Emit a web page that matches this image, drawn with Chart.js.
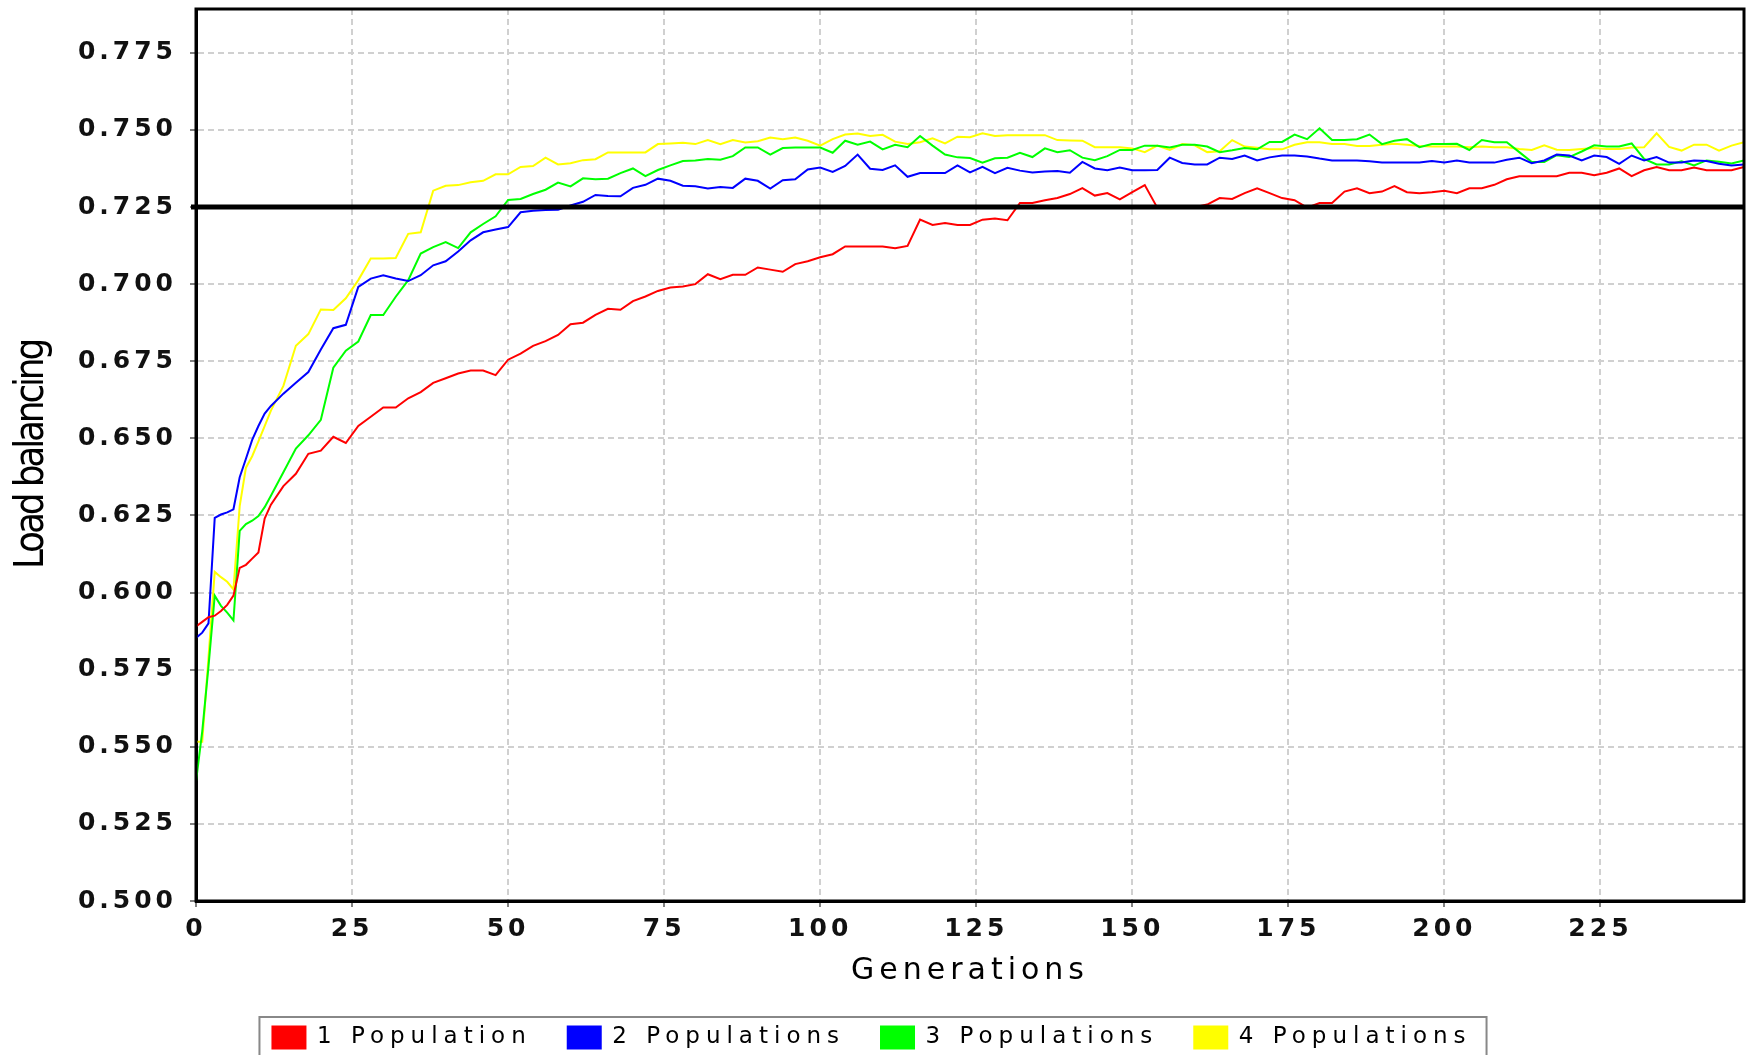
<!DOCTYPE html>
<html>
<head>
<meta charset="utf-8">
<script src="https://cdn.jsdelivr.net/npm/chart.js@4.4.1/dist/chart.umd.min.js"></script>
<style>
  html, body { margin: 0; padding: 0; background: #fff; }
  canvas { display: block; }
</style>
</head>
<body>
<canvas id="chart" width="1748" height="1055"></canvas>
<script>
// Generations sampled from the plot
const generations = [0,1,2,3,4,5,6,7,8,9,10,11,12,14,16,18,20,22,24,26,28,30,32,34,36,38,40,42,44,46,48,50,52,54,56,58,60,62,64,66,68,70,72,74,76,78,80,82,84,86,88,90,92,94,96,98,100,102,104,106,108,110,112,114,116,118,120,122,124,126,128,130,132,134,136,138,140,142,144,146,148,150,152,154,156,158,160,162,164,166,168,170,172,174,176,178,180,182,184,186,188,190,192,194,196,198,200,202,204,206,208,210,212,214,216,218,220,222,224,226,228,230,232,234,236,238,240,242,244,246,248];

const onePopulation = [
  0.589,0.5905,0.592,0.5925,0.594,0.596,0.599,0.608,0.609,0.611,0.613,0.624,0.6285,
  0.6345,0.6385,0.645,0.646,0.6505,0.6485,0.654,0.657,0.660,0.660,0.663,0.665,0.668,0.6695,
  0.671,0.672,0.672,0.6705,0.6755,0.6775,0.680,0.6815,0.6835,0.687,0.6875,0.690,0.692,
  0.6917,0.6945,0.696,0.6978,0.6989,0.6992,0.700,0.7032,0.7016,0.703,0.703,0.7054,0.7047,
  0.704,0.7065,0.7074,0.7087,0.7097,0.7122,0.7122,0.7122,0.7122,0.7116,0.7124,0.7209,0.7192,
  0.7198,0.7192,0.7192,0.7209,0.7213,0.7207,0.7263,0.7263,0.7272,0.7279,0.7292,0.7311,0.7287,
  0.7295,0.7275,0.7298,0.7321,0.7248,0.7247,0.7248,0.7249,0.7258,0.7279,0.7276,0.7295,0.7311,
  0.7295,0.7279,0.7272,0.7248,0.7263,0.7263,0.7300,0.7311,0.7295,0.7300,0.7318,0.7298,0.7295,
  0.7298,0.7303,0.7295,0.7311,0.7311,0.7322,0.7340,0.7350,0.7350,0.7350,0.7350,0.7361,0.7361,
  0.7353,0.7361,0.7375,0.7350,0.7369,0.7380,0.7369,0.7369,0.7378,0.7369,0.7369,0.7369,0.7380
];
const twoPopulations = [
  0.5853,0.587,0.590,0.6242,0.6253,0.626,0.627,0.6374,0.6434,0.6495,0.654,0.658,0.6605,
  0.6645,0.668,0.6715,0.6788,0.6857,0.6868,0.6991,0.7018,0.7029,0.7018,0.701,0.7029,0.7061,0.7074,
  0.7106,0.7142,0.7168,0.7177,0.7185,0.7233,0.7238,0.7240,0.7241,0.7255,0.7267,0.7289,0.7286,
  0.7285,0.7312,0.7322,0.7342,0.7335,0.7319,0.7317,0.731,0.7315,0.7312,0.7342,0.7335,0.731,
  0.7337,0.734,0.7372,0.7378,0.7364,0.7383,0.742,0.7374,0.737,0.7385,0.7348,0.736,0.736,
  0.736,0.7385,0.7362,0.738,0.736,0.7377,0.7368,0.7362,0.7365,0.7367,0.7361,0.7396,0.7375,
  0.7369,0.7378,0.7369,0.7369,0.737,0.741,0.7393,0.7388,0.7388,0.741,0.7406,0.7417,0.7401,
  0.7411,0.7417,0.7417,0.7414,0.7407,0.7401,0.7401,0.7401,0.7398,0.7394,0.7394,0.7394,0.7394,
  0.7399,0.7394,0.7401,0.7394,0.7394,0.7394,0.7403,0.741,0.7392,0.7401,0.742,0.7417,0.7401,
  0.7417,0.7412,0.739,0.7417,0.7401,0.7412,0.7394,0.7394,0.7401,0.7399,0.739,0.7385,0.7388
];
const threePopulations = [
  0.5387,0.555,0.576,0.599,0.5957,0.5935,0.591,0.620,0.6222,0.6233,0.6248,0.6277,0.6314,
  0.639,0.6467,0.651,0.656,0.6729,0.6784,0.6814,0.690,0.690,0.6959,0.7013,0.7099,0.712,0.7136,
  0.7117,0.7168,0.7195,0.722,0.7273,0.7276,0.7292,0.7306,0.7329,0.7317,0.7343,0.734,0.7342,
  0.736,0.7375,0.735,0.737,0.7385,0.7399,0.7401,0.7406,0.7403,0.7415,0.7443,0.7443,0.742,
  0.7441,0.7443,0.7443,0.7443,0.7426,0.7465,0.7452,0.7462,0.7437,0.7452,0.7444,0.748,0.7449,
  0.742,0.7411,0.7409,0.7394,0.7408,0.741,0.7426,0.7412,0.744,0.7428,0.7434,0.741,0.7402,
  0.7415,0.7435,0.7435,0.7449,0.7449,0.7443,0.7452,0.7452,0.7446,0.7428,0.7434,0.7441,0.7437,
  0.7461,0.7461,0.7485,0.747,0.7505,0.7467,0.7467,0.747,0.7485,0.7454,0.7465,0.747,0.7444,
  0.7454,0.7454,0.7455,0.7435,0.7467,0.746,0.746,0.7428,0.7396,0.7396,0.7418,0.7412,0.743,
  0.745,0.7446,0.7446,0.7456,0.7406,0.7388,0.7388,0.7398,0.7385,0.7401,0.7397,0.7391,0.7401
];
const fourPopulations = [
  0.5516,0.5516,0.579,0.6067,0.605,0.6035,0.601,0.628,0.6405,0.6442,0.649,0.654,0.659,
  0.667,0.680,0.6838,0.6918,0.6916,0.6954,0.7013,0.7083,0.7083,0.7085,0.7163,0.7168,0.7303,0.7319,
  0.7321,0.733,0.7335,0.7356,0.7356,0.738,0.7383,0.741,0.7388,0.7392,0.7402,0.7405,0.7427,
  0.7427,0.7427,0.7427,0.7454,0.7456,0.7458,0.7454,0.7467,0.7454,0.7467,0.7459,0.7463,0.7475,
  0.747,0.7475,0.7465,0.7449,0.747,0.7485,0.7488,0.748,0.7484,0.7462,0.7454,0.746,0.7473,
  0.7456,0.7478,0.7476,0.7489,0.748,0.7483,0.7483,0.7483,0.7483,0.7467,0.7466,0.7465,0.7444,
  0.7444,0.7444,0.744,0.7428,0.7449,0.7435,0.7454,0.745,0.7428,0.7431,0.7467,0.7446,0.7442,
  0.7437,0.7437,0.7452,0.746,0.746,0.7454,0.7454,0.7448,0.7448,0.7452,0.7455,0.7452,0.7448,
  0.7446,0.7446,0.7446,0.7444,0.7446,0.7444,0.7444,0.7438,0.7435,0.745,0.7436,0.7435,0.7438,
  0.7441,0.7438,0.7438,0.7443,0.7444,0.7489,0.7445,0.7433,0.7452,0.7452,0.7433,0.7449,0.746
];

const seriesNames = ['1 Population', '2 Populations', '3 Populations', '4 Populations'];
const seriesValues = [onePopulation, twoPopulations, threePopulations, fourPopulations];
const seriesColors = ['#ff0000', '#0000ff', '#00ff00', '#ffff00'];

const xTicks = [0, 25, 50, 75, 100, 125, 150, 175, 200, 225];
const yTicks = [0.5, 0.525, 0.55, 0.575, 0.6, 0.625, 0.65, 0.675, 0.7, 0.725, 0.75, 0.775];
const targetLevel = 0.725;

const tickFont = { family: 'DejaVu Sans', size: 25, weight: 'bold' };

// letter spacing per font size: ticks 25, legend 23, x title 30, y title 40
const spacingBySize = { 25: '4px', 23: '6px', 30: '5px', 40: '-3.2px' };

const spacingPlugin = {
  id: 'spacing',
  beforeInit(chart) {
    const ctx = chart.ctx;
    const fill = ctx.fillText.bind(ctx);
    const measure = ctx.measureText.bind(ctx);
    const pick = () => {
      const m = /(\d+(?:\.\d+)?)px/.exec(ctx.font);
      return (m && spacingBySize[Math.round(+m[1])]) || '0px';
    };
    ctx.fillText = function(t, x, y, w) {
      ctx.letterSpacing = pick();
      if (w === undefined) fill(t, x, y); else fill(t, x, y, w);
      ctx.letterSpacing = '0px';
    };
    ctx.measureText = function(t) {
      ctx.letterSpacing = pick();
      const m = measure(t);
      ctx.letterSpacing = '0px';
      return m;
    };
  }
};

// plot frame, marker line at 0.725 and the legend border
const framePlugin = {
  id: 'frame',
  afterDatasetsDraw(chart) {
    const { ctx, chartArea: a, scales: { y } } = chart;
    const yy = y.getPixelForValue(targetLevel);
    ctx.save();
    ctx.strokeStyle = '#000';
    ctx.lineWidth = 5;
    ctx.beginPath();
    ctx.moveTo(a.left - 5, yy);
    ctx.lineTo(a.right, yy);
    ctx.stroke();
    ctx.lineWidth = 3;
    ctx.strokeRect(a.left, a.top, a.right - a.left, a.bottom - a.top);
    ctx.restore();
  },
  afterDraw(chart) {
    const boxes = chart.legend.legendHitBoxes;
    if (!boxes.length) return;
    const first = boxes[0], last = boxes[boxes.length - 1];
    const ctx = chart.ctx;
    ctx.save();
    ctx.strokeStyle = '#888';
    ctx.lineWidth = 2;
    ctx.strokeRect(first.left - 13, first.top - 9,
      last.left + last.width - first.left + 28, chart.height);
    ctx.restore();
  }
};

new Chart(document.getElementById('chart'), {
  type: 'line',
  data: {
    datasets: seriesNames.map((name, i) => ({
      label: name,
      data: generations.map((g, k) => ({ x: g, y: seriesValues[i][k] })),
      borderColor: seriesColors[i],
      backgroundColor: seriesColors[i],
      borderWidth: 2,
      pointRadius: 0,
      tension: 0,
      fill: false
    }))
  },
  options: {
    responsive: false,
    animation: false,
    devicePixelRatio: 1,
    layout: { padding: { top: 9, right: 4, left: 0, bottom: -4 } },
    plugins: {
      legend: {
        position: 'bottom',
        labels: {
          boxWidth: 33,
          boxHeight: 22,
          padding: 36,
          color: '#000',
          font: { family: 'DejaVu Sans', size: 23 }
        }
      },
      tooltip: { enabled: false }
    },
    scales: {
      x: {
        type: 'linear',
        min: 0,
        max: 248,
        afterFit: s => { s.height = 89; s.paddingLeft = 0; s.paddingRight = 0; },
        afterBuildTicks: s => { s.ticks = xTicks.map(v => ({ value: v })); },
        ticks: { font: tickFont, color: '#111', padding: 7, maxRotation: 0, autoSkip: false, callback: v => String(v) },
        grid: { color: '#d0d0d0', lineWidth: 2, tickLength: 6, tickColor: '#808080', tickWidth: 2 },
        border: { color: '#000', width: 3, dash: [6, 4] },
        title: {
          display: true, text: 'Generations', color: '#000',
          font: { family: 'DejaVu Sans', size: 30 }, padding: { top: 0, bottom: 1 }
        }
      },
      y: {
        min: 0.5,
        max: 0.7892,
        afterFit: s => { s.width = 196; s.paddingTop = 0; s.paddingBottom = 0; },
        afterBuildTicks: s => { s.ticks = yTicks.map(v => ({ value: v })); },
        ticks: { font: tickFont, color: '#111', padding: 13, autoSkip: false, callback: v => v.toFixed(3) },
        grid: { color: '#d0d0d0', lineWidth: 2, tickLength: 6, tickColor: '#808080', tickWidth: 2 },
        border: { color: '#000', width: 3, dash: [6, 4] },
        title: {
          display: true, text: 'Load balancing', color: '#000',
          font: { family: 'DejaVu Sans Condensed, DejaVu Sans', size: 40 }, padding: { top: 9, bottom: 0 }
        }
      }
    }
  },
  plugins: [spacingPlugin, framePlugin]
});
</script>
</body>
</html>
